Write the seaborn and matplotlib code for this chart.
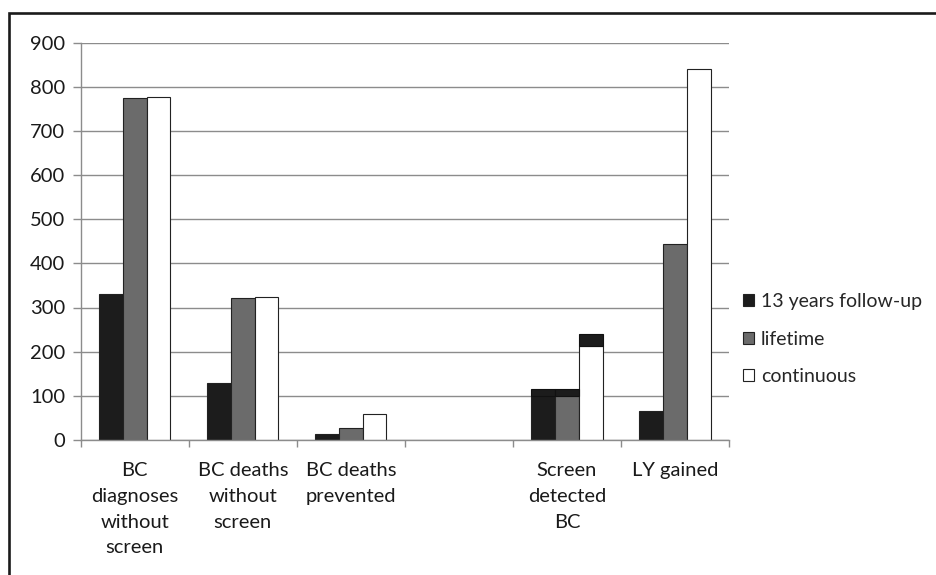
import matplotlib
matplotlib.use("Agg")
import matplotlib.pyplot as plt
from matplotlib.patches import Rectangle
import numpy as np
import pandas as pd
import seaborn as sns

# categories (empty slot kept between the two groups)
CATEGORIES = ["BC\ndiagnoses\nwithout\nscreen", "BC deaths\nwithout\nscreen",
              "BC deaths\nprevented", "", "Screen\ndetected\nBC", "LY gained"]
SERIES = ["13 years follow-up", "lifetime", "continuous"]
FOLLOW_13 = [330, 130, 13, None, 100, 65]
LIFETIME = [774, 321, 28, None, 100, 444]
CONTINUOUS = [776, 323, 60, None, 213, 840]
# extra black segment stacked on the screen-detected bars
SCREEN_EXTRA = [15, 15, 26]
COLORS = ["#1c1c1c", "#6b6b6b", "#ffffff"]

rows = []
for name, vals in zip(SERIES, [FOLLOW_13, LIFETIME, CONTINUOUS]):
    for cat, v in zip(CATEGORIES, vals):
        if v is not None:
            rows.append({"category": cat, "series": name, "value": v})
df = pd.DataFrame(rows)

sns.set_theme(style="white")
plt.rcParams["font.family"] = ["Lato", "DejaVu Sans"]

fig = plt.figure(figsize=(9.36, 5.75), dpi=100)
ax = fig.add_axes([80.7 / 936, 1 - 440 / 575, (729 - 80.7) / 936, (440 - 42.5) / 575])

sns.barplot(data=df, x="category", y="value", hue="series", order=CATEGORIES,
            hue_order=SERIES, palette=COLORS, width=0.66, errorbar=None,
            edgecolor="#222222", linewidth=0.8, saturation=1, ax=ax)

# stacked black caps on the screen-detected bars
idx = CATEGORIES.index("Screen\ndetected\nBC")
for cont, extra in zip(ax.containers, SCREEN_EXTRA):
    for p in cont.patches:
        cx = p.get_x() + p.get_width() / 2
        if round(cx) == idx:
            ax.bar(cx, extra, bottom=p.get_height(), width=p.get_width(),
                   color=COLORS[0], edgecolor="#111111", linewidth=0.8, zorder=3)

ax.set_ylim(0, 900)
ax.set_xlim(-0.5, len(CATEGORIES) - 0.5)
ax.set_yticks(range(0, 901, 100))
ax.yaxis.grid(True, color="#8c8c8c", linewidth=1.0)
ax.set_axisbelow(True)
ax.set_xlabel("")
ax.set_ylabel("")
for s in ["top", "right"]:
    ax.spines[s].set_visible(False)
for s in ["left", "bottom"]:
    ax.spines[s].set_color("#8c8c8c")
    ax.spines[s].set_linewidth(1.0)

ax.tick_params(axis="y", which="major", left=True, length=6, width=1.0,
               color="#8c8c8c", pad=5, labelsize=14.5, labelcolor="#1a1a1a")
ax.set_xticks(np.arange(-0.5, len(CATEGORIES)), minor=True)
ax.tick_params(axis="x", which="minor", bottom=True, length=5, width=1.0,
               color="#8c8c8c")
ax.tick_params(axis="x", which="major", bottom=False, length=0, pad=16,
               labelsize=14.5, labelcolor="#1a1a1a")
for lab in ax.get_xticklabels():
    lab.set_linespacing(1.62)

sns.move_legend(ax, "center left", bbox_to_anchor=(0.994, 0.254), frameon=False,
                title=None, fontsize=14, handlelength=0.6, handleheight=0.6,
                handletextpad=0.35, labelspacing=1.05)

# frame around the picture (only top and left visible)
fig.patches.append(Rectangle((8.5 / 936, -0.1), 1.2, 1.1 - 13 / 575,
                             transform=fig.transFigure, fill=False,
                             edgecolor="#1a1a1a", linewidth=1.9))

fig.savefig("out.png", dpi=100, facecolor="white")
